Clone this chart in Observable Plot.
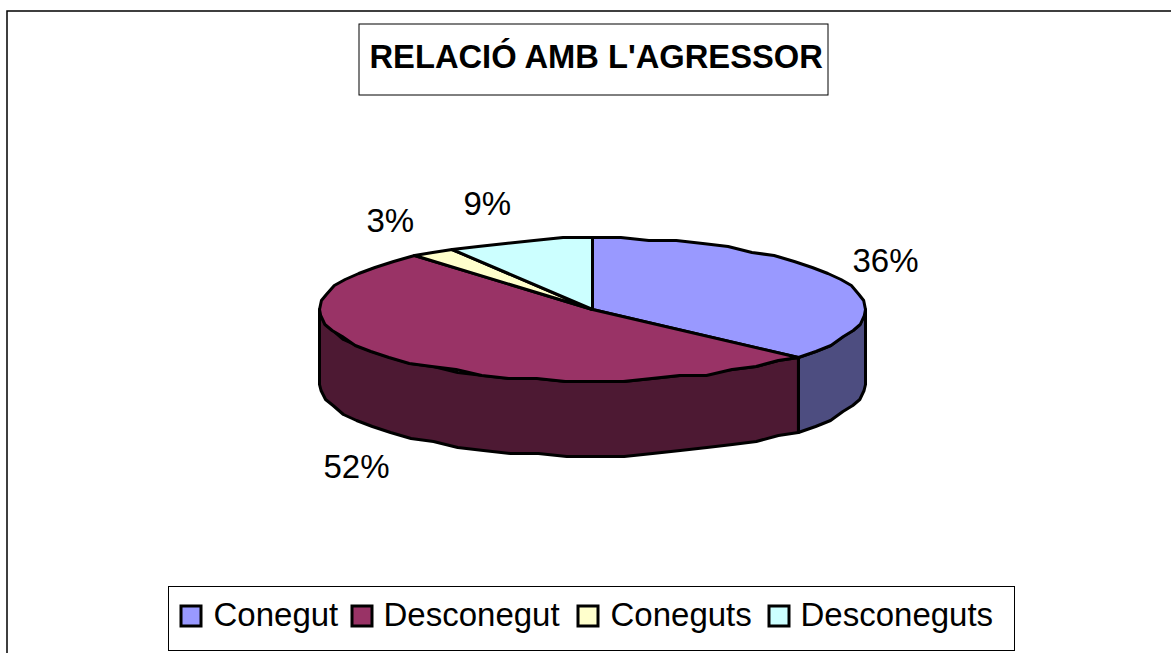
<!DOCTYPE html>
<html><head><meta charset="utf-8">
<script src="https://cdn.jsdelivr.net/npm/d3@7"></script>
<script src="https://cdn.jsdelivr.net/npm/@observablehq/plot@0.6"></script>
<style>html,body{margin:0;padding:0;background:#fff;overflow:hidden}svg{display:block}</style>
</head><body><div id="chart"></div>
<script>
const categories = ["Conegut", "Desconegut", "Coneguts", "Desconeguts"];
const values = [36.4, 52.3, 2.7, 8.6];
const topColors = ["#9999FF", "#993366", "#FFFFCC", "#CCFFFF"];
const sideColors = ["#4D4D80", "#4D1933", "#808066", "#668080"];
const titleText = "RELACIÓ AMB L'AGRESSOR";

// layout
const W = 1171, H = 653;
const cx = 592, cy = 309, rx = 273, ry = 71, depth = 75, stepDeg = 6, gridY = 3;
const labelAt = [[852, 261], [323, 467], [366, 221], [463, 204]];
const legendX = [181, 352, 578, 769], legendTextX = [213, 383, 610, 800], legendY = 616;
const font = "Liberation Sans, Arial, sans-serif";

const total = d3.sum(values);
let acc = 0;
const slices = categories.map((name, i) => {
  const a0 = acc / total * 360; acc += values[i]; const a1 = acc / total * 360;
  return {name, i, a0, a1, value: values[i]};
});
// the reference's outline is a coarse, low-resolution polygon: snap the rim heights
const px = a => cx + rx * Math.sin(a * Math.PI / 180);
const py = a => cy + Math.round(-ry * Math.cos(a * Math.PI / 180) / gridY) * gridY;
function arc(a0, a1) {
  const out = [], n = Math.max(1, Math.round((a1 - a0) / stepDeg));
  for (let k = 0; k <= n; k++) out.push(a0 + (a1 - a0) * k / n);
  return out;
}
const topPts = slices.flatMap(s => [
  {x: cx, y: cy}, ...arc(s.a0, s.a1).map(a => ({x: px(a), y: py(a)})), {x: cx, y: cy}
].map(p => ({...p, z: s.name, fill: topColors[s.i]})));
const sidePts = slices.flatMap(s => {
  const a0 = Math.max(s.a0, 90), a1 = Math.min(s.a1, 270);
  if (a1 <= a0) return [];
  const as = arc(a0, a1);
  const ring = [...as.map(a => ({x: px(a), y: py(a)})),
                ...as.slice().reverse().map(a => ({x: px(a), y: py(a) + depth}))];
  ring.push(ring[0]);
  return ring.map(p => ({...p, z: s.name, fill: sideColors[s.i]}));
});
const swatchSize = 20;
const legend = categories.map((name, i) => ({name, i}));

const chart = Plot.plot({
  width: W, height: H, margin: 0,
  x: {domain: [0, W], range: [0, W], axis: null},
  y: {domain: [0, H], range: [0, H], axis: null},
  style: {background: "#fff"},
  marks: [
    Plot.rect([0], {x1: 7, x2: W + 20, y1: 11, y2: H + 20, fill: "none", stroke: "#000", strokeWidth: 1.5}),
    Plot.rect([0], {x1: 359, x2: 828, y1: 24, y2: 95, fill: "#fff", stroke: "#000", strokeWidth: 1}),
    Plot.text([titleText], {x: 369, y: 57, text: d => d, textAnchor: "start", fontFamily: font, fontWeight: "bold", fontSize: 32.7, fill: "#000", lineAnchor: "middle"}),
    Plot.line(sidePts, {x: "x", y: "y", z: "z", fill: "fill", stroke: "#000", strokeWidth: 3, strokeLinejoin: "round", curve: "linear"}),
    Plot.line(topPts, {x: "x", y: "y", z: "z", fill: "fill", stroke: "#000", strokeWidth: 3, strokeLinejoin: "round", curve: "linear"}),
    Plot.text(slices, {x: d => labelAt[d.i][0], y: d => labelAt[d.i][1], text: d => Math.round(d.value) + "%", textAnchor: "start", fontFamily: font, fontSize: 33, fill: "#000", lineAnchor: "middle"}),
    Plot.rect([0], {x1: 168.5, x2: 1014.5, y1: 586.5, y2: 650.5, fill: "#fff", stroke: "#000", strokeWidth: 1}),
    Plot.rect(legend, {x1: d => legendX[d.i], x2: d => legendX[d.i] + swatchSize, y1: legendY - swatchSize / 2, y2: legendY + swatchSize / 2, fill: d => topColors[d.i], stroke: "#000", strokeWidth: 3}),
    Plot.text(legend, {x: d => legendTextX[d.i], y: legendY - 1, text: "name", textAnchor: "start", fontFamily: font, fontSize: 33, fill: "#000", lineAnchor: "middle"})
  ]
});
document.getElementById("chart").append(chart);
</script></body></html>
